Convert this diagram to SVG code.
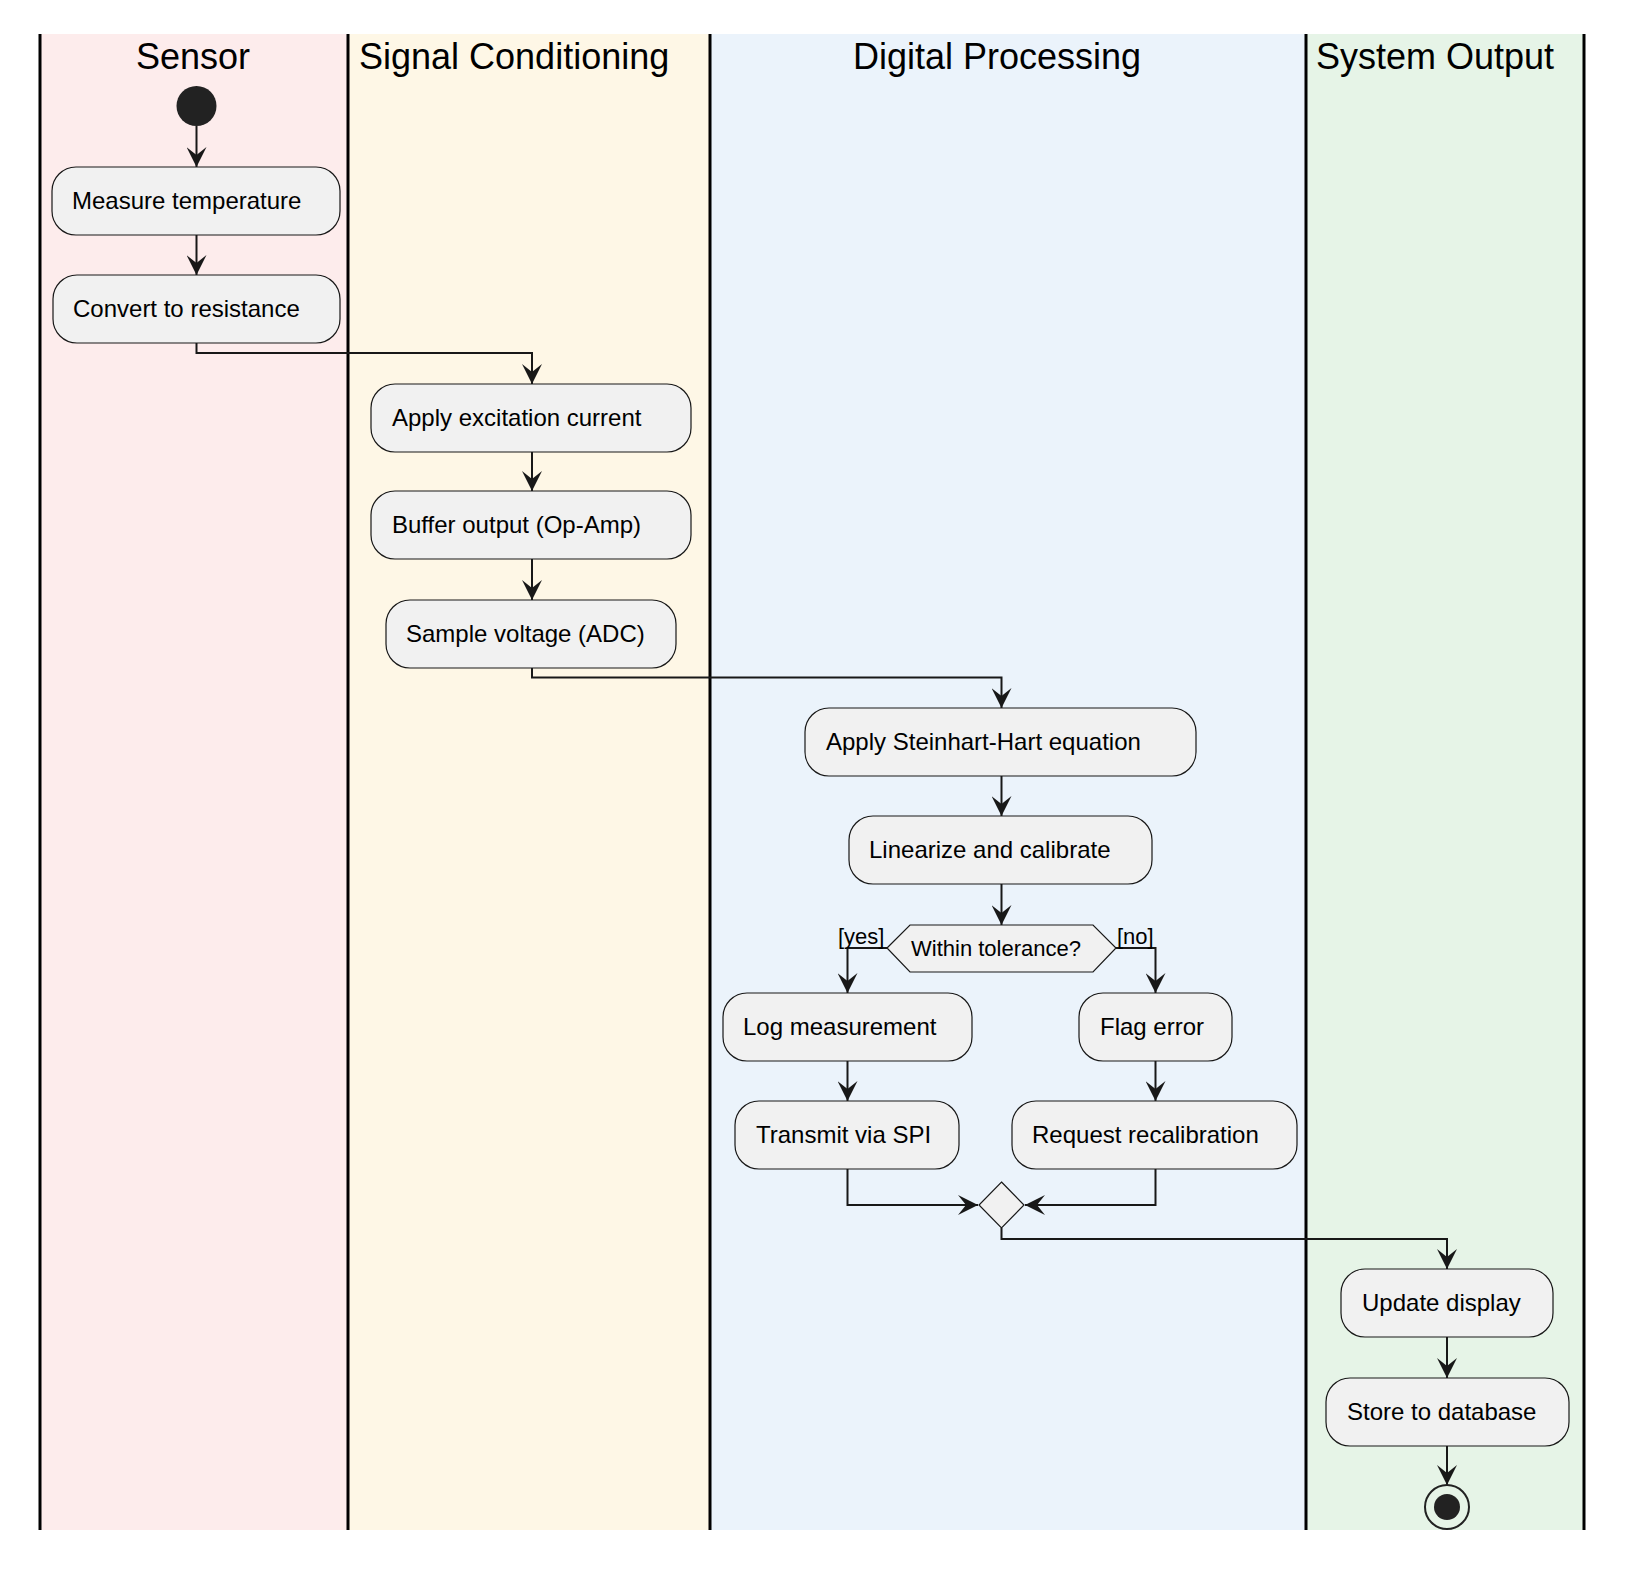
<svg xmlns="http://www.w3.org/2000/svg" width="1640" height="1570" viewBox="0 0 1640 1570">
<style>
.lt{font-family:"Liberation Sans",Arial,sans-serif;font-size:36px;fill:#000}
.t{font-family:"Liberation Sans",Arial,sans-serif;font-size:24px;fill:#000}
.s{font-family:"Liberation Sans",Arial,sans-serif;font-size:22px;fill:#000}
.box{fill:#F1F1F1;stroke:#181818;stroke-width:1.2}
.c{fill:none;stroke:#181818;stroke-width:2;marker-end:url(#a)}
.sep{stroke:#000;stroke-width:3}
</style>
<defs>
<marker id="a" viewBox="0 0 20 20" refX="20" refY="10" markerWidth="20" markerHeight="20" markerUnits="userSpaceOnUse" orient="auto">
<path d="M0,0 L20,10 L0,20 L8,10 Z" fill="#181818"/>
</marker>
</defs>
<rect width="1640" height="1570" fill="#fff"/>
<g id="lanes">
<rect x="40" y="34" width="308" height="1496" fill="#FDECEC"/>
<rect x="348" y="34" width="362" height="1496" fill="#FEF7E6"/>
<rect x="710" y="34" width="596" height="1496" fill="#EBF3FB"/>
<rect x="1306" y="34" width="278" height="1496" fill="#E6F4E7"/>
<line class="sep" x1="40" y1="34" x2="40" y2="1530"/>
<line class="sep" x1="348" y1="34" x2="348" y2="1530"/>
<line class="sep" x1="710" y1="34" x2="710" y2="1530"/>
<line class="sep" x1="1306" y1="34" x2="1306" y2="1530"/>
<line class="sep" x1="1584" y1="34" x2="1584" y2="1530"/>
<text class="lt" x="136" y="69">Sensor</text>
<text class="lt" x="359" y="69">Signal Conditioning</text>
<text class="lt" x="853" y="69">Digital Processing</text>
<text class="lt" x="1316" y="69">System Output</text>
</g>
<g id="connectors">
<path class="c" d="M196.5,126 V167"/>
<path class="c" d="M196.5,235 V275"/>
<path class="c" d="M196.5,343 V353 H532 V384"/>
<path class="c" d="M532,452 V491"/>
<path class="c" d="M532,559 V600"/>
<path class="c" d="M532,668 V677.5 H1001.5 V708"/>
<path class="c" d="M1001.5,776 V816"/>
<path class="c" d="M1001.5,884 V925"/>
<path class="c" d="M887,948 H847.5 V993"/>
<path class="c" d="M1116,948 H1155.5 V993"/>
<path class="c" d="M847.5,1061 V1101"/>
<path class="c" d="M1155.5,1061 V1101"/>
<path class="c" d="M847.5,1169 V1205 H978"/>
<path class="c" d="M1155.5,1169 V1205 H1025"/>
<path class="c" d="M1001.5,1228 V1239 H1447 V1269"/>
<path class="c" d="M1447,1337 V1378"/>
<path class="c" d="M1447,1446 V1485"/>
<text class="s" x="838" y="944">[yes]</text>
<text class="s" x="1117" y="944">[no]</text>
</g>
<g id="start"><circle cx="196.5" cy="106" r="20" fill="#222"/></g>
<g id="n1"><rect class="box" x="52" y="167" width="288" height="68" rx="24"/><text class="t" x="72" y="209">Measure temperature</text></g>
<g id="n2"><rect class="box" x="53" y="275" width="287" height="68" rx="24"/><text class="t" x="73" y="317">Convert to resistance</text></g>
<g id="n3"><rect class="box" x="371" y="384" width="320" height="68" rx="24"/><text class="t" x="392" y="426">Apply excitation current</text></g>
<g id="n4"><rect class="box" x="371" y="491" width="320" height="68" rx="24"/><text class="t" x="392" y="533">Buffer output (Op-Amp)</text></g>
<g id="n5"><rect class="box" x="386" y="600" width="290" height="68" rx="24"/><text class="t" x="406" y="642">Sample voltage (ADC)</text></g>
<g id="n6"><rect class="box" x="805" y="708" width="391" height="68" rx="24"/><text class="t" x="826" y="750">Apply Steinhart-Hart equation</text></g>
<g id="n7"><rect class="box" x="849" y="816" width="303" height="68" rx="24"/><text class="t" x="869" y="858">Linearize and calibrate</text></g>
<g id="d1"><polygon class="box" points="887,948 910,925 1093,925 1116,948 1093,972 910,972"/><text class="s" x="911" y="956">Within tolerance?</text></g>
<g id="n8"><rect class="box" x="723" y="993" width="249" height="68" rx="24"/><text class="t" x="743" y="1035">Log measurement</text></g>
<g id="n9"><rect class="box" x="1079" y="993" width="153" height="68" rx="24"/><text class="t" x="1100" y="1035">Flag error</text></g>
<g id="n10"><rect class="box" x="735" y="1101" width="224" height="68" rx="24"/><text class="t" x="756" y="1143">Transmit via SPI</text></g>
<g id="n11"><rect class="box" x="1012" y="1101" width="285" height="68" rx="24"/><text class="t" x="1032" y="1143">Request recalibration</text></g>
<g id="m1"><polygon class="box" points="1001.5,1182 1024,1205 1001.5,1228 979,1205"/></g>
<g id="n12"><rect class="box" x="1341" y="1269" width="212" height="68" rx="24"/><text class="t" x="1362" y="1311">Update display</text></g>
<g id="n13"><rect class="box" x="1326" y="1378" width="243" height="68" rx="24"/><text class="t" x="1347" y="1420">Store to database</text></g>
<g id="end"><circle cx="1447" cy="1507" r="22" fill="none" stroke="#222" stroke-width="2"/><circle cx="1447" cy="1507" r="13" fill="#222"/></g>
</svg>
